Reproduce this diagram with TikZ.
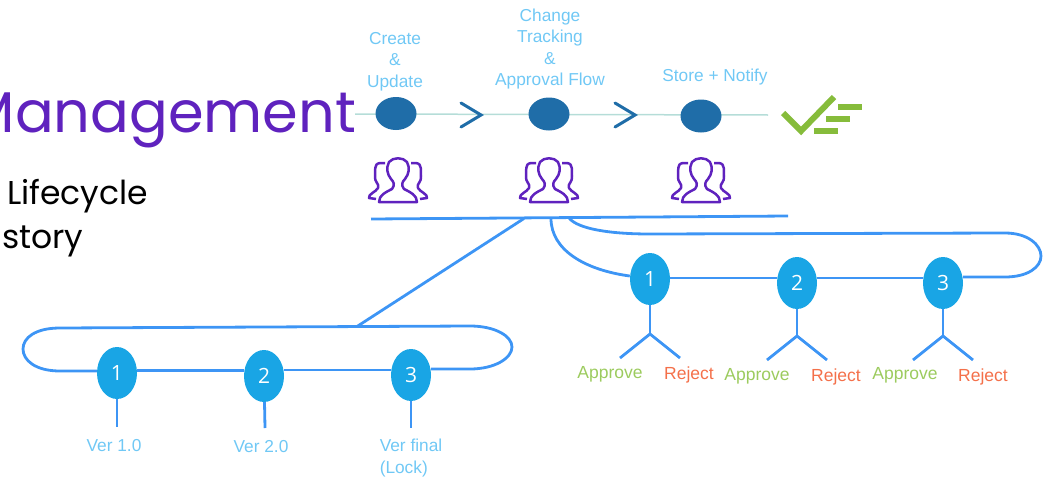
\documentclass[tikz,border=0pt]{standalone}
\usepackage{fontspec}
\setmainfont{Liberation Sans}
\newfontfamily\titlefont{Poppins}
\newfontfamily\numfont{Open Sans}
\usepackage{tikz}
\usetikzlibrary{shapes}
\usetikzlibrary{positioning}
\definecolor{titlepurple}{HTML}{5F22BE}
\definecolor{stepblue}{HTML}{1F6DA8}
\definecolor{linkblue}{HTML}{3D95F5}
\definecolor{numblue}{HTML}{19A5E5}
\definecolor{lightblue}{HTML}{70C8F5}
\definecolor{flowteal}{HTML}{B5DDD8}
\definecolor{okgreen}{HTML}{9CCB5E}
\definecolor{checkgreen}{HTML}{86BC3B}
\definecolor{noorange}{HTML}{F4704A}
\begin{document}
\begin{tikzpicture}[x=1pt,y=-1pt]
\tikzstyle{stepnode}=[ellipse,fill=stepblue,minimum width=41pt,minimum height=33pt,inner sep=0pt]
\tikzstyle{numnode}=[ellipse,fill=numblue,text=white,minimum width=40pt,minimum height=52pt,inner sep=0pt,font=\numfont\fontsize{21}{24}\selectfont]
\tikzstyle{flowline}=[draw=flowteal,line width=1.5pt]
\tikzstyle{chain}=[draw=linkblue,line width=2.8pt]
\tikzstyle{chevron}=[draw=stepblue,line width=3pt,line cap=round]
\tikzstyle{steplabel}=[text=lightblue,align=center,inner sep=0pt,font=\fontsize{17.3}{21.5}\selectfont]
\tikzstyle{yeslabel}=[text=okgreen,inner sep=0pt,font=\fontsize{17.5}{20}\selectfont]
\tikzstyle{nolabel}=[text=noorange,inner sep=0pt,font=\fontsize{17.5}{20}\selectfont]
\tikzstyle{bar}=[fill=checkgreen,minimum width=24pt,minimum height=6.5pt,inner sep=0pt]
\tikzset{people/.pic={
  \draw[draw=titlepurple,line width=2.5pt,line join=round]
    (-19,44) .. controls (-19,37) and (-12,34) .. (-6,31)
    .. controls (-3,27) and (-4,24) .. (-7,21)
    .. controls (-11,16) and (-12,10) .. (-9,4)
    .. controls (-5,-1) and (5,-1) .. (9,4)
    .. controls (12,10) and (11,16) .. (7,21)
    .. controls (4,24) and (3,27) .. (6,31)
    .. controls (12,34) and (19,37) .. (19,44) -- cycle;
  \draw[draw=titlepurple,line width=2.5pt,line join=round]
    (-13,5) -- (-18,5) .. controls (-25,6) and (-22,13) .. (-23,18)
    .. controls (-24,24) and (-18,26) .. (-20,30)
    .. controls (-22,34) and (-30,36) .. (-29,40) -- (-22,41);
  \draw[draw=titlepurple,line width=2.5pt,line join=round]
    (13,5) -- (18,5) .. controls (25,6) and (22,13) .. (23,18)
    .. controls (24,24) and (18,26) .. (20,30)
    .. controls (22,34) and (30,36) .. (29,40) -- (22,41);
}}
\useasboundingbox (0,0) rectangle (1046,479);
% heading
\node[text=titlepurple,anchor=base west,inner sep=0pt,font=\titlefont\fontsize{57.4}{60}\selectfont] (Title) at (-34.5,132) {Management};
\node[anchor=base west,inner sep=0pt,font=\titlefont\fontsize{33}{36}\selectfont] (Sub1) at (7,204) {Lifecycle};
\node[anchor=base west,inner sep=0pt,font=\titlefont\fontsize{33}{36}\selectfont] (Sub2) at (2,248) {story};
% main flow
\coordinate (F0) at (355,114);
\coordinate (F1) at (768,115);
\draw[flowline] (F0) -- (F1);
\node[stepnode] (T1) at (396,113.5) {};
\node[stepnode] (T2) at (549,114) {};
\node[stepnode] (T3) at (701,116) {};
\draw[chevron] (461,103) -- (481,115) -- (461,127);
\draw[chevron] (615,103) -- (635,115) -- (615,127);
\node[steplabel] (L1) at (395,61.5) {Create\\\&\\Update};
\node[steplabel] (L2) at (550,49) {Change\\Tracking\\\&\\Approval Flow};
\node[steplabel] (L3) at (715,77) {Store + Notify};
% check mark
\draw[draw=checkgreen,line width=6pt] (783,113) -- (801,131) -- (834,97);
\node[bar] (B1) at (850,107) {};
\node[bar] (B2) at (838,119) {};
\node[bar] (B3) at (826,131) {};
% groups
\pic at (398,158) {people};
\pic at (549,158) {people};
\pic at (701,158) {people};
% shared line
\coordinate (H0) at (371,219);
\coordinate (H1) at (788,216);
\coordinate (S1) at (524,218.5);
\coordinate (S2) at (357,326.5);
\coordinate (S3) at (551,218.5);
\coordinate (S4) at (569,218);
\draw[chain] (H0) -- (H1);
\draw[chain] (S1) -- (S2);
% versions
\node[numnode] (V1) at (117,373) {1};
\node[numnode] (V2) at (264,376) {2};
\node[numnode] (V3) at (411,375) {3};
\draw[chain] (V1.east |- 0,370.5) -- (V2.west |- 0,370.5);
\draw[chain] (V2.east |- 0,370) -- (V3.west |- 0,370);
\draw[chain] (V1.west |- 0,371) -- (60,371) .. controls (35,371) and (23,360) .. (23,349) .. controls (23,338) and (35,328) .. (60,328) -- (470,326) .. controls (495,326) and (512,336) .. (512,347) .. controls (512,358) and (495,369) .. (470,369) -- (V3.east |- 0,369);
\coordinate (E1) at (117,427);
\coordinate (E2) at (265,428);
\coordinate (E3) at (411,428);
\draw[chain] (V1) -- (E1);
\draw[chain] (V2) -- (E2);
\draw[chain] (V3) -- (E3);
\node[steplabel] (VL1) at (114,446) {Ver 1.0};
\node[steplabel] (VL2) at (261,447) {Ver 2.0};
\node[steplabel,align=left] (VL3) at (411,458) {Ver final\\(Lock)};
% approvers
\node[numnode] (A1) at (650,279) {1};
\node[numnode] (A2) at (797,283) {2};
\node[numnode] (A3) at (943,283) {3};
\draw[chain] (A1.east |- 0,278) -- (A2.west |- 0,278);
\draw[chain] (A2.east |- 0,278) -- (A3.west |- 0,278);
\draw[chain] (S3) .. controls (551,250) and (585,270) .. (A1.west |- 0,276);
\draw[chain] (S4) .. controls (578,229) and (610,234) .. (650,234) -- (1005,233) .. controls (1028,233) and (1041,245) .. (1041,256) .. controls (1041,267) and (1028,277) .. (1005,277) -- (A3.east |- 0,277);
\foreach \n/\x/\y in {1/650/334,2/797/336,3/943/336}{
  \coordinate (K\n) at (\x,\y);
  \coordinate (P\n) at (\x-30,\y+24);
  \coordinate (Q\n) at (\x+30,\y+24);
  \draw[chain] (A\n) -- (K\n);
  \draw[chain] (P\n) -- (K\n) -- (Q\n);
}
\node[yeslabel] (Y1) at (610,374.5) {Approve};
\node[nolabel] (R1) at (689,374.5) {Reject};
\node[yeslabel] (Y2) at (757,376.5) {Approve};
\node[nolabel] (R2) at (836,376.5) {Reject};
\node[yeslabel] (Y3) at (905,375.5) {Approve};
\node[nolabel] (R3) at (983,376.5) {Reject};
\end{tikzpicture}
\end{document}
